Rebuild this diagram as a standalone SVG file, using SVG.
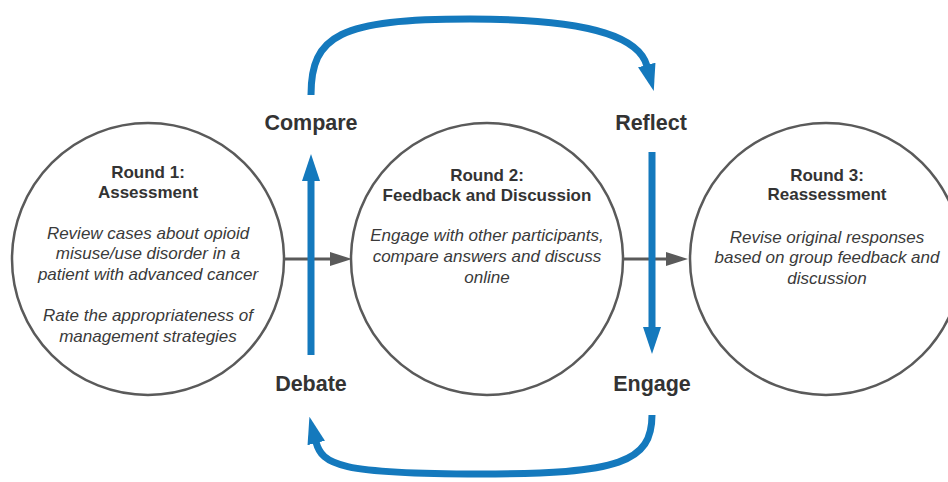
<svg xmlns="http://www.w3.org/2000/svg" width="948" height="482" viewBox="0 0 948 482">
<style>
.node{fill:#fff;stroke:#5a5a5a;stroke-width:2.5}
.title{font-family:"Liberation Sans",Arial,sans-serif;font-weight:bold;font-size:17px;fill:#333;text-anchor:middle}
.body{font-family:"Liberation Sans",Arial,sans-serif;font-style:italic;font-size:17px;fill:#3a3a3a;text-anchor:middle}
.lbl{font-family:"Liberation Sans",Arial,sans-serif;font-weight:bold;font-size:21.5px;fill:#333;text-anchor:middle}
.gray{stroke:#5a5a5a;stroke-width:3;fill:none}
.blue{stroke:#1479bd;stroke-width:7;fill:none}
</style>
<defs>
<marker id="ah-blue" viewBox="0 0 27 18" markerWidth="27" markerHeight="18" refX="1" refY="9" orient="auto" markerUnits="userSpaceOnUse">
<path d="M0,0 L27,9 L0,18 z" fill="#1479bd"/>
</marker>
<marker id="ah-gray" viewBox="0 0 22 14" markerWidth="22" markerHeight="14" refX="1" refY="7" orient="auto" markerUnits="userSpaceOnUse">
<path d="M0,0 L22,7 L0,14 z" fill="#5a5a5a"/>
</marker>
</defs>
<g id="round1">
<circle class="node" cx="148" cy="259" r="136"/>
<text class="title" x="148" y="178">Round 1:</text>
<text class="title" x="148" y="198">Assessment</text>
<text class="body" x="148" y="239">Review cases about opioid</text>
<text class="body" x="148" y="259">misuse/use disorder in a</text>
<text class="body" x="148" y="280">patient with advanced cancer</text>
<text class="body" x="148" y="321">Rate the appropriateness of</text>
<text class="body" x="148" y="342">management strategies</text>
</g>
<g id="round2">
<circle class="node" cx="487" cy="259" r="136"/>
<text class="title" x="487" y="181">Round 2:</text>
<text class="title" x="487" y="201">Feedback and Discussion</text>
<text class="body" x="487" y="241">Engage with other participants,</text>
<text class="body" x="487" y="262">compare answers and discuss</text>
<text class="body" x="487" y="283">online</text>
</g>
<g id="round3">
<circle class="node" cx="826" cy="259" r="136"/>
<text class="title" x="827" y="181">Round 3:</text>
<text class="title" x="827" y="200">Reassessment</text>
<text class="body" x="827" y="243">Revise original responses</text>
<text class="body" x="827" y="263">based on group feedback and</text>
<text class="body" x="827" y="284">discussion</text>
</g>
<g id="labels">
<text class="lbl" x="311" y="130">Compare</text>
<text class="lbl" x="651" y="130">Reflect</text>
<text class="lbl" x="311" y="391">Debate</text>
<text class="lbl" x="652" y="391">Engage</text>
</g>
<g id="connectors">
<line class="gray" x1="285" y1="259" x2="331" y2="259" marker-end="url(#ah-gray)"/>
<line class="gray" x1="623" y1="259" x2="667" y2="259" marker-end="url(#ah-gray)"/>
<line class="blue" x1="311" y1="355" x2="311" y2="180" marker-end="url(#ah-blue)"/>
<line class="blue" x1="652" y1="152" x2="652" y2="328" marker-end="url(#ah-blue)"/>
<path class="blue" d="M311,95 C311,35 340,19 470,19 C600,19 640,40 647,66" marker-end="url(#ah-blue)"/>
<path class="blue" d="M652,415 C652,462 620,474 480,474 C340,474 322,465 316,442" marker-end="url(#ah-blue)"/>
</g>
</svg>
